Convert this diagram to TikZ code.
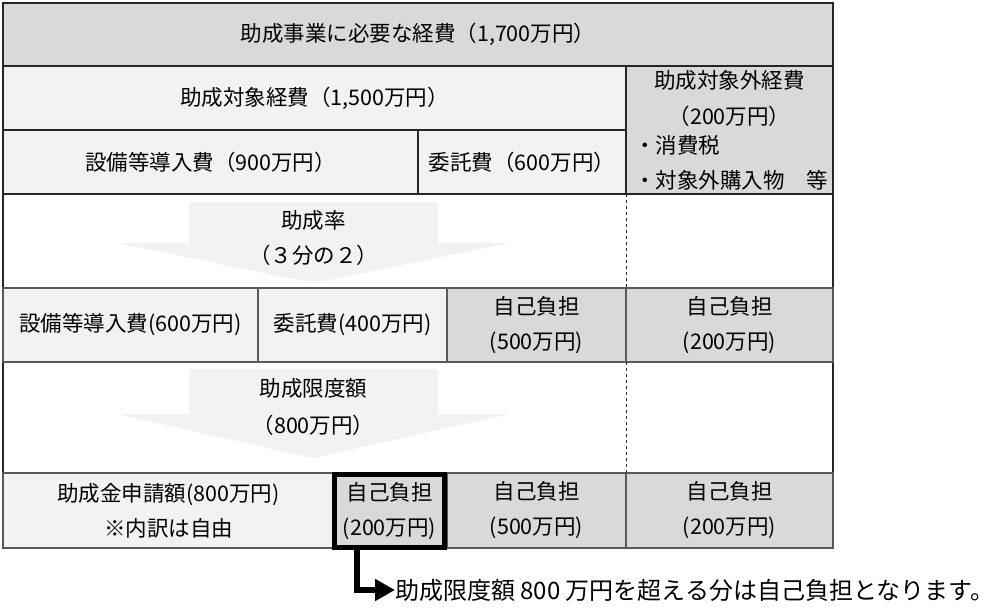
\documentclass[tikz,border=0pt]{standalone}
\usepackage{fontspec}
\setmainfont{Noto Sans CJK JP}
\usetikzlibrary{arrows.meta,positioning}
\definecolor{darkcell}{HTML}{D9D9D9}
\definecolor{lightcell}{HTML}{F2F2F2}
\tikzset{>=latex}
\tikzset{
  cell/.style={draw=black!85, line width=1.5pt, inner sep=0pt, outer sep=0pt,
    align=center, font=\fontsize{21.5}{35}\selectfont},
  lowcell/.style={cell, draw=black!65, line width=1.2pt},
  txt/.style={inner sep=0pt, font=\fontsize{21.5}{25}\selectfont},
}

\begin{document}
\begin{tikzpicture}[x=1pt,y=-1pt]
  \useasboundingbox (0,0) rectangle (1000,609);

  % Frame
  \draw[black!85, line width=1.2pt] (3,3) rectangle (833,548);

  % Arrows
  \foreach \top/\mid/\tip in {202/243/283, 369/414/458}
    \fill[lightcell] (189,\top) -- (438,\top) -- (438,\mid) -- (509,\mid)
      -- (313.5,\tip) -- (117,\mid) -- (189,\mid) -- cycle;

  % Nodes
  \node[cell, fill=darkcell, minimum width=830, minimum height=63]  (total)    at (418,34.5) {助成事業に必要な経費（1,700万円）};
  \node[cell, fill=lightcell, minimum width=623, minimum height=64] (elig)     at (314.5,98) {助成対象経費（1,500万円）};
  \node[cell, fill=darkcell, minimum width=207, minimum height=128] (nonelig)  at (729.5,130) {};
  \node[txt]                                                         (nontitle) at (729.5,80) {助成対象外経費};
  \node[txt]                                                         (nonsum)   at (729.5,116) {（200万円）};
  \node[txt, anchor=west]                                            (tax)      at (634,145) {・消費税};
  \node[txt, anchor=west]                                            (other)    at (634,180) {・対象外購入物　等};
  \node[cell, fill=lightcell, minimum width=415, minimum height=64] (equipA)   at (210.5,162) {設備等導入費（900万円）};
  \node[cell, fill=lightcell, minimum width=208, minimum height=64] (consignA) at (522,162) {委託費（600万円）};

  \node[txt] (rate)     at (313.5,220) {助成率};
  \node[txt] (ratenum)  at (313.5,255) {（３分の２）};

  \node[lowcell, fill=lightcell, minimum width=255, minimum height=74] (equipB)   at (130.5,325) {設備等導入費(600万円)};
  \node[lowcell, fill=lightcell, minimum width=189, minimum height=74] (consignB) at (352.5,325) {委託費(400万円)};
  \node[lowcell, fill=darkcell, minimum width=179, minimum height=74]  (selfA)    at (536.5,325) {自己負担\\(500万円)};
  \node[lowcell, fill=darkcell, minimum width=207, minimum height=74]  (selfB)    at (729.5,325) {自己負担\\(200万円)};

  \node[txt] (limit)    at (313.5,388) {助成限度額};
  \node[txt] (limitnum) at (313.5,425) {（800万円）};

  \node[lowcell, fill=lightcell, minimum width=331, minimum height=75] (apply)    at (168.5,510.5) {助成金申請額(800万円)\\※内訳は自由};
  \node[lowcell, fill=darkcell, minimum width=179, minimum height=75]  (selfC)    at (536.5,510.5) {自己負担\\(500万円)};
  \node[lowcell, fill=darkcell, minimum width=207, minimum height=75]  (selfD)    at (729.5,510.5) {自己負担\\(200万円)};
  \node[cell, fill=darkcell, draw=black, line width=5pt,
        minimum width=110, minimum height=73]                          (excess)   at (389.5,511) {自己負担\\(200万円)};

  \node[inner sep=0pt, anchor=west, font=\fontsize{24}{28}\selectfont] (note) at (395,590) {助成限度額 800 万円を超える分は自己負担となります。};

  % Edges
  \draw[black!85, line width=1pt, dashed] (consignA.south east) -- (selfA.north east);
  \draw[black!85, line width=1pt, dashed] (selfA.south east) -- (selfC.north east);
  \draw[line width=5.5pt, -{Triangle[length=20pt,width=21pt]}]
    ([xshift=22.5pt]excess.south west) |- (note.west);
\end{tikzpicture}
\end{document}
